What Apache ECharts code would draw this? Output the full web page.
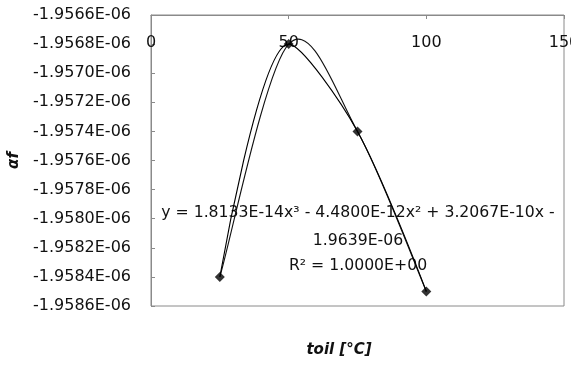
<!DOCTYPE html>
<html>
<head>
<meta charset="utf-8">
<script src="https://cdn.jsdelivr.net/npm/echarts@6/dist/echarts.min.js"></script>
<style>
  html, body { margin: 0; padding: 0; background: #fff; }
  #chart { width: 571px; height: 368px; }
</style>
</head>
<body>
<div id="chart"></div>
<script>
// Oil temperature (°C) and alpha f, stored in units of 1E-06
const temperatures = [25, 50, 75, 100];
const alphaF = [-1.9584, -1.9568, -1.9574, -1.9585];
const xTicks = [0, 50, 100, 150];
const yTicks = [-1.9586, -1.9584, -1.9582, -1.9580, -1.9578, -1.9576, -1.9574, -1.9572, -1.9570, -1.9568, -1.9566];
const trendLines = [
  'y = 1.8133E-14x³ - 4.4800E-12x² + 3.2067E-10x -',
  '1.9639E-06',
  'R² = 1.0000E+00'
];

const FONT = 'DejaVu Sans';
const pts = temperatures.map((t, i) => [t, alphaF[i]]);

// Smoothed curve through the points: cubic Bezier segments with
// Catmull-Rom style tangents scaled by `k`, built in pixel space
// from the axis scales.
function bezierThrough(k, width, color) {
  return function (params, api) {
    if (params.dataIndex !== 0) return null;
    const p = pts.map(d => api.coord(d));
    const n = p.length;
    const at = i => p[Math.max(0, Math.min(n - 1, i))];
    let d = 'M' + p[0][0] + ' ' + p[0][1];
    for (let i = 0; i < n - 1; i++) {
      const p0 = at(i - 1), p1 = at(i), p2 = at(i + 1), p3 = at(i + 2);
      const c1 = [p1[0] + (p2[0] - p0[0]) * k, p1[1] + (p2[1] - p0[1]) * k];
      const c2 = [p2[0] - (p3[0] - p1[0]) * k, p2[1] - (p3[1] - p1[1]) * k];
      d += ' C' + c1[0] + ' ' + c1[1] + ' ' + c2[0] + ' ' + c2[1] + ' ' + p2[0] + ' ' + p2[1];
    }
    return {
      type: 'path',
      shape: { pathData: d },
      style: { fill: 'none', stroke: color, lineWidth: width }
    };
  };
}

const chart = echarts.init(document.getElementById('chart'), null, { renderer: 'canvas' });
chart.setOption({
  animation: false,
  backgroundColor: '#fff',
  grid: {
    left: 151, right: 7, top: 15, bottom: 62,
    outerBoundsMode: 'none', containLabel: false,
    show: true, borderColor: '#8a8a8a', borderWidth: 1
  },
  xAxis: {
    type: 'value', position: 'top',
    min: xTicks[0], max: xTicks[xTicks.length - 1], interval: 50,
    axisLine: { show: true, lineStyle: { color: '#8a8a8a' } },
    axisTick: { show: true, inside: true, length: 4, lineStyle: { color: '#8a8a8a' } },
    axisLabel: { inside: true, margin: 20, color: '#111', fontFamily: FONT, fontSize: 16, hideOverlap: false },
    splitLine: { show: false }
  },
  yAxis: {
    type: 'value',
    min: yTicks[0], max: yTicks[yTicks.length - 1], interval: 0.0002,
    axisLine: { show: true, lineStyle: { color: '#8a8a8a' } },
    axisTick: { show: true, inside: true, length: 4, lineStyle: { color: '#8a8a8a' } },
    axisLabel: {
      margin: 20, color: '#111', fontFamily: FONT, fontSize: 16,
      formatter: v => v.toFixed(4) + 'E-06'
    },
    splitLine: { show: false },
    name: 'αf', nameLocation: 'middle', nameGap: 125, nameRotate: 90,
    nameTextStyle: { fontFamily: FONT, fontSize: 15, fontWeight: 'bold', fontStyle: 'italic', color: '#111' }
  },
  series: [
    {
      // smoothed line through the measurements
      type: 'line', data: pts, smooth: 0.3,
      symbol: 'none',
      lineStyle: { color: '#000', width: 1.1 },
      z: 3
    },
    {
      // polynomial trendline
      type: 'custom', data: pts, renderItem: bezierThrough(1 / 6, 1.1, '#111'),
      clip: false, z: 2, silent: true
    },
    {
      // measured points
      type: 'scatter', data: pts,
      symbol: 'diamond', symbolSize: 10,
      itemStyle: { color: '#000' },
      z: 4
    }
  ],
  graphic: [
    { type: 'text', x: 358, y: 213, style: { text: trendLines[0], align: 'center', verticalAlign: 'middle', font: '15.7px "' + FONT + '"', fill: '#111' } },
    { type: 'text', x: 358, y: 241, style: { text: trendLines[1], align: 'center', verticalAlign: 'middle', font: '15.7px "' + FONT + '"', fill: '#111' } },
    { type: 'text', x: 358, y: 266, style: { text: trendLines[2], align: 'center', verticalAlign: 'middle', font: '15.7px "' + FONT + '"', fill: '#111' } },
    { type: 'text', x: 339, y: 350, style: { text: 'toil [°C]', align: 'center', verticalAlign: 'middle', font: 'italic bold 15px "' + FONT + '"', fill: '#111' } }
  ]
});
</script>
</body>
</html>
